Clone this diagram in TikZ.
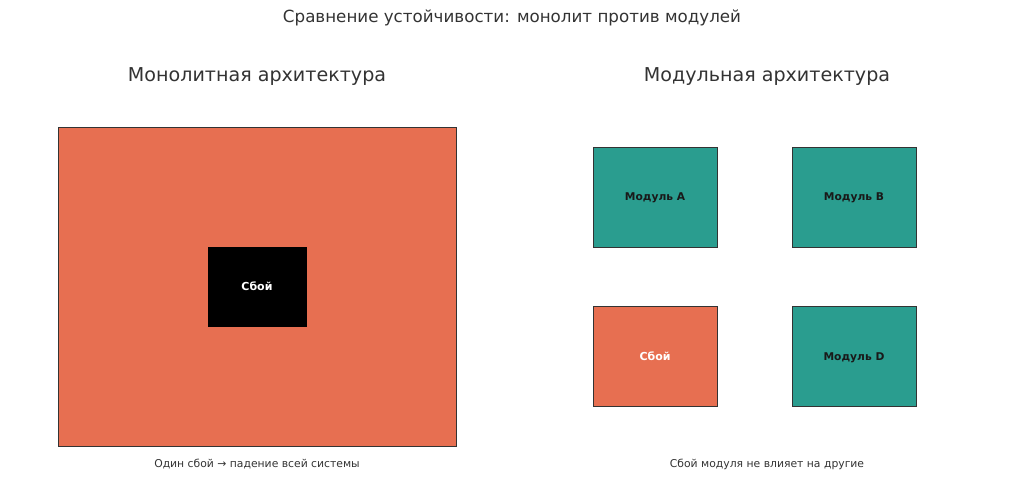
\documentclass[tikz,border=0pt]{standalone}
\usepackage{fontspec}
\setmainfont{DejaVu Sans}
\usepackage{xcolor}
\usepackage{tikz}
\usetikzlibrary{positioning}
\definecolor{failcolor}{HTML}{E76F51}
\definecolor{modcolor}{HTML}{2A9D8F}
\definecolor{edgecolor}{HTML}{333333}
\definecolor{textcolor}{HTML}{333333}

\begin{document}
\begin{tikzpicture}[
    x=1pt, y=-1pt,
    block/.style={draw=edgecolor, line width=0.9pt, inner sep=0pt, font=\fontsize{11}{13}\selectfont\bfseries},
    module/.style={block, fill=modcolor, text=black!90, minimum width=124pt, minimum height=100pt},
    modlabel/.style={font=\fontsize{10.7}{13}\selectfont\bfseries, text depth=0pt},
    heading/.style={font=\fontsize{19.1}{23}\selectfont, text=textcolor},
    caption/.style={font=\fontsize{10.8}{13}\selectfont, text=textcolor}
]
    \useasboundingbox (0,0) rectangle (1024,495);
    \node[font=\fontsize{16.7}{20}\selectfont, text=textcolor] (title) at (512,17.5) {Сравнение устойчивости: монолит против модулей};

    % monolith
    \node[heading] (monohead) at (257,76.5) {Монолитная архитектура};
    \node[block, fill=failcolor, minimum width=398pt, minimum height=319pt] (mono) at (257,286.5) {};
    \node[block, fill=black, draw=black, text=white, minimum width=98pt, minimum height=79pt] (monofail) at (257,286.5) {Сбой};
    \node[caption] (monocap) at (257,464) {Один сбой → падение всей системы};

    % modules
    \node[heading] (modhead) at (767,76.5) {Модульная архитектура};
    \node[module, modlabel] (moda) at (655,197) {Модуль A};
    \node[module, modlabel] (modb) at (854,197) {Модуль B};
    \node[module, fill=failcolor, text=white] (modc) at (655,356.5) {Сбой};
    \node[module, modlabel] (modd) at (854,356.5) {Модуль D};
    \node[caption] (modcap) at (767,464) {Сбой модуля не влияет на другие};
\end{tikzpicture}
\end{document}
